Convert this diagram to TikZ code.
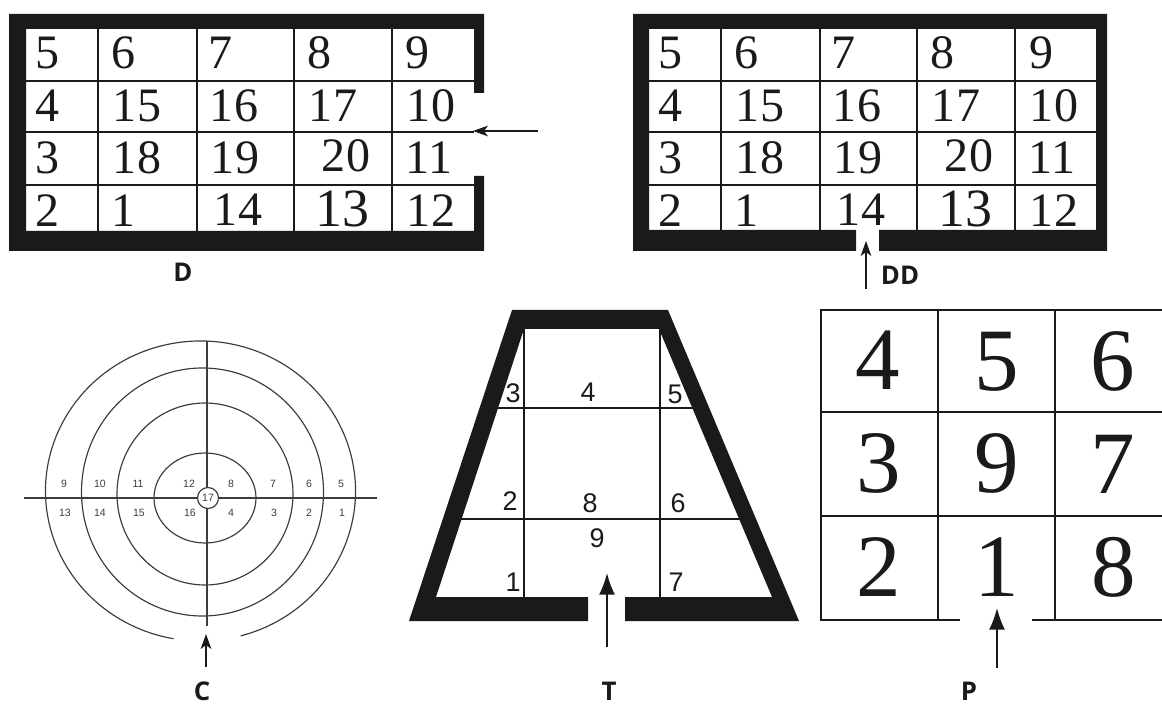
\documentclass[tikz,border=0pt]{standalone}
\usepackage{fontspec}
\usepackage{xcolor}
\usepackage{tikz}
\usetikzlibrary{arrows.meta}
\setmainfont{Liberation Serif}
\newfontfamily\sansfont{Liberation Sans}
\newfontfamily\capfont{Open Sans}
\definecolor{ink}{HTML}{1A1A1A}
\tikzset{
  wall/.style     = {fill=ink, draw=none},
  gridline/.style = {draw=ink, line width=1.6pt},
  ringline/.style = {draw=ink!85, line width=1pt},
  halline/.style  = {draw=ink, line width=1.8pt},
  roomnum/.style  = {inner sep=0pt, text=ink, font=\fontsize{41}{41}\selectfont},
  bignum/.style   = {inner sep=0pt, text=ink, font=\fontsize{46}{46}\selectfont},
  ringnum/.style  = {inner sep=0pt, text=ink!85, font=\sansfont\fontsize{9}{9}\selectfont},
  halnum/.style   = {inner sep=0pt, text=ink, font=\sansfont\fontsize{23}{23}\selectfont},
  parknum/.style  = {inner sep=0pt, text=ink, font=\fontsize{76}{76}\selectfont},
  planlabel/.style = {inner sep=0pt, text=ink, font=\capfont\bfseries\fontsize{22}{22}\selectfont},
  ar/.style       = {-{Stealth[length=4.5mm,width=3.2mm,inset=1.2mm]}, draw=ink, line width=1pt},
  bar/.style      = {-{Latex[length=6.5mm,width=4.8mm]}, draw=ink, line width=1.5pt},
}
\begin{document}
\begin{tikzpicture}[x=0.03cm, y=-0.03cm]
  \useasboundingbox (0,0) rectangle (1162,707);

  % D and DD walls
  \fill[wall] (484,14) -- (9,14) -- (9,251) -- (484,251) -- (484,176) -- (474,176)
    -- (474,231) -- (26,231) -- (26,29) -- (474,29) -- (474,93) -- (484,93) -- cycle;
  \fill[wall] (633,14) -- (1107,14) -- (1107,251) -- (879,251) -- (879,230) -- (1096,230)
    -- (1096,29) -- (649,29) -- (649,230) -- (856,230) -- (856,251) -- (633,251) -- cycle;

  % same rooms in both plans
  \foreach \pre/\dx in {d/0, dd/623} {
    \begin{scope}[xshift=\dx*0.03cm]
      \foreach \gy in {81,132,185}
        \draw[gridline] (26,\gy) -- (474,\gy);
      \foreach \gx in {98,197,294,392}
        \draw[gridline] (\gx,29) -- (\gx,231);
      \foreach \lab/\px/\py in {5/48/53, 6/124/53, 7/221/53, 8/320/53, 9/418/53,
          4/48/106, 15/137/106, 16/234/106, 17/333/106, 10/431/106,
          3/48/158, 18/137/158, 19/235/158, 20/346/156, 11/429/158,
          2/48/211, 1/124/211, 14/238/210, 12/431/211}
        \node[roomnum] (\pre\lab) at (\px,\py) {\lab};
      \node[bignum] (\pre13) at (342,209) {13};
    \end{scope}
  }

  \coordinate (dtail) at (538,131);
  \coordinate (dhead) at (473,131);
  \draw[ar] (dtail) -- (dhead);
  \node[planlabel] (labD) at (183,272) {D};

  \coordinate (ddtail) at (866,289);
  \coordinate (ddhead) at (866,241);
  \draw[ar] (ddtail) -- (ddhead);
  \node[planlabel] (labDD) at (900,275) {DD};

  % C rings
  \draw[ringline] (200.5,491) ++(75:155 and 150) arc[start angle=75, end angle=-260, x radius=155, y radius=150];
  \draw[ringline] (202.5,492) ellipse[x radius=121, y radius=124];
  \draw[ringline] (205,494) ellipse[x radius=88, y radius=91];
  \draw[ringline] (205,498) ellipse[x radius=51, y radius=45];
  \coordinate (cleft) at (24,498);
  \coordinate (cright) at (377,498);
  \coordinate (ctop) at (207,341);
  \coordinate (cbot) at (207,626);
  \draw[ringline] (cleft) -- (cright);
  \draw[ringline] (ctop) -- (cbot);
  \node[ringnum, circle, draw=ink!85, fill=white, line width=1pt, minimum size=21*0.03cm] (c17) at (208,498) {17};
  \foreach \lab/\px/\py in {9/64/484, 10/100/484, 11/138/484, 12/189/484, 8/231/484, 7/273/484, 6/309/484, 5/341/484,
      13/65/513, 14/100/513, 15/139/513, 16/190/513, 4/231/513, 3/274/513, 2/309/513, 1/342/513}
    \node[ringnum] (c\lab) at (\px,\py) {\lab};
  \coordinate (ctail) at (206,667);
  \coordinate (chead) at (206,634);
  \draw[ar] (ctail) -- (chead);
  \node[planlabel] (labC) at (202,691) {C};

  % T hall
  \fill[wall] (588,621) -- (409,621) -- (512,310) -- (668,310) -- (799,621) -- (625,621) -- (625,597)
    -- (772,597) -- (659,329) -- (524,329) -- (436,597) -- (588,597) -- cycle;
  \draw[halline] (497,408) -- (695,408);
  \draw[halline] (460,519) -- (740,519);
  \draw[halline] (524,329) -- (524,597);
  \draw[halline] (660,329) -- (660,597);
  \foreach \lab/\px/\py in {3/513/393, 4/588/392, 5/675/394, 2/510/501, 8/590/503, 6/678/503, 9/597/538, 1/513/582, 7/676/582}
    \node[halnum] (t\lab) at (\px,\py) {\lab};
  \coordinate (ttail) at (607,647);
  \coordinate (thead) at (607,573);
  \draw[bar] (ttail) -- (thead);
  \node[planlabel] (labT) at (609,691) {T};

  % P grid
  \draw[halline] (960,620) -- (821,620) -- (821,310) -- (1162,310);
  \draw[halline] (1032,620) -- (1162,620);
  \draw[halline] (821,412) -- (1162,412);
  \draw[halline] (821,516) -- (1162,516);
  \draw[halline] (938,310) -- (938,620);
  \draw[halline] (1055,310) -- (1055,620);
  \foreach \lab/\px/\py in {4/878/360, 5/997/362, 6/1113/361, 3/879/463, 9/997/463, 7/1113/464, 2/879/567, 1/997/567, 8/1114/567}
    \node[parknum] (p\lab) at (\px,\py) {\lab};
  \coordinate (ptail) at (997,668);
  \coordinate (phead) at (997,608);
  \draw[bar] (ptail) -- (phead);
  \node[planlabel] (labP) at (969,691) {P};
\end{tikzpicture}
\end{document}
